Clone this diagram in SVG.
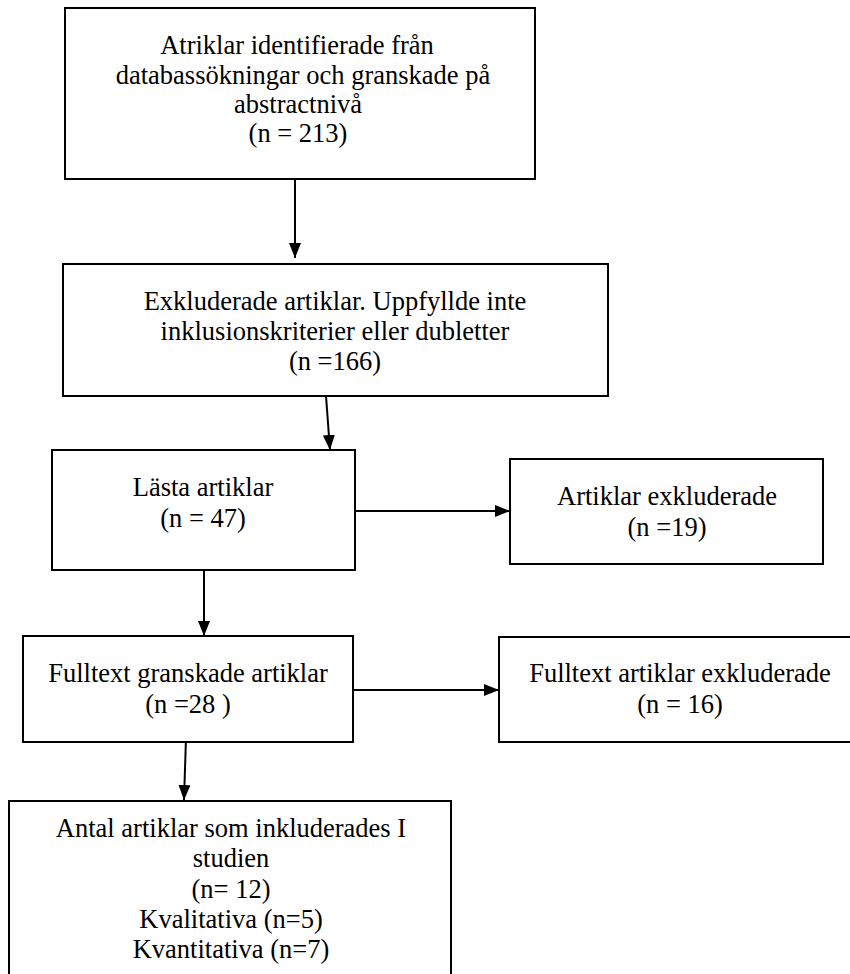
<svg xmlns="http://www.w3.org/2000/svg" width="850" height="974" viewBox="0 0 850 974">
  <style>
    .box { fill: #ffffff; stroke: #000000; stroke-width: 2; }
    .lbl { font-family: "Liberation Serif", "Times New Roman", serif; font-size: 26.5px; fill: #000000; text-anchor: middle; }
    .conn { stroke: #000000; stroke-width: 2; fill: none; marker-end: url(#arrow); }
  </style>
  <defs>
    <marker id="arrow" viewBox="0 0 15 12" refX="15" refY="6" markerWidth="15" markerHeight="12" markerUnits="userSpaceOnUse" orient="auto">
      <path d="M0,0 L15,6 L0,12 z" fill="#000000"/>
    </marker>
  </defs>
  <rect width="850" height="974" fill="#ffffff"/>

  <g id="connectors">
    <line class="conn" x1="295" y1="180" x2="295" y2="258"/>
    <line class="conn" x1="326" y1="396" x2="330" y2="450"/>
    <line class="conn" x1="355" y1="511" x2="510" y2="511"/>
    <line class="conn" x1="204" y1="570" x2="204" y2="636"/>
    <line class="conn" x1="353" y1="690" x2="499" y2="690"/>
    <line class="conn" x1="186" y1="738" x2="184" y2="800"/>
  </g>

  <g id="node-identified">
    <rect class="box" x="65" y="8" width="470" height="171"/>
    <text class="lbl" x="297" y="54">Atriklar identifierade från</text>
    <text class="lbl" x="303" y="84">databassökningar och granskade på</text>
    <text class="lbl" x="298" y="113">abstractnivå</text>
    <text class="lbl" x="298" y="142">(n = 213)</text>
  </g>

  <g id="node-excluded-abstract">
    <rect class="box" x="63" y="264" width="545" height="132"/>
    <text class="lbl" x="335" y="310">Exkluderade artiklar. Uppfyllde inte</text>
    <text class="lbl" x="335" y="340">inklusionskriterier eller dubletter</text>
    <text class="lbl" x="335" y="370">(n =166)</text>
  </g>

  <g id="node-read">
    <rect class="box" x="52" y="450" width="303" height="120"/>
    <text class="lbl" x="203" y="496">Lästa artiklar</text>
    <text class="lbl" x="203" y="527">(n = 47)</text>
  </g>

  <g id="node-excluded-read">
    <rect class="box" x="510" y="459" width="313" height="105"/>
    <text class="lbl" x="667" y="505">Artiklar exkluderade</text>
    <text class="lbl" x="667" y="536">(n =19)</text>
  </g>

  <g id="node-fulltext">
    <rect class="box" x="23" y="636" width="330" height="106"/>
    <text class="lbl" x="188" y="682">Fulltext granskade artiklar</text>
    <text class="lbl" x="188" y="713">(n =28 )</text>
  </g>

  <g id="node-fulltext-excluded">
    <rect class="box" x="499" y="637" width="362" height="105"/>
    <text class="lbl" x="680" y="682">Fulltext artiklar exkluderade</text>
    <text class="lbl" x="680" y="713">(n = 16)</text>
  </g>

  <g id="node-included">
    <rect class="box" x="9" y="801" width="442" height="180"/>
    <text class="lbl" x="231" y="837">Antal artiklar som inkluderades I</text>
    <text class="lbl" x="231" y="867">studien</text>
    <text class="lbl" x="231" y="898">(n= 12)</text>
    <text class="lbl" x="231" y="928">Kvalitativa (n=5)</text>
    <text class="lbl" x="231" y="958">Kvantitativa (n=7)</text>
  </g>
</svg>
